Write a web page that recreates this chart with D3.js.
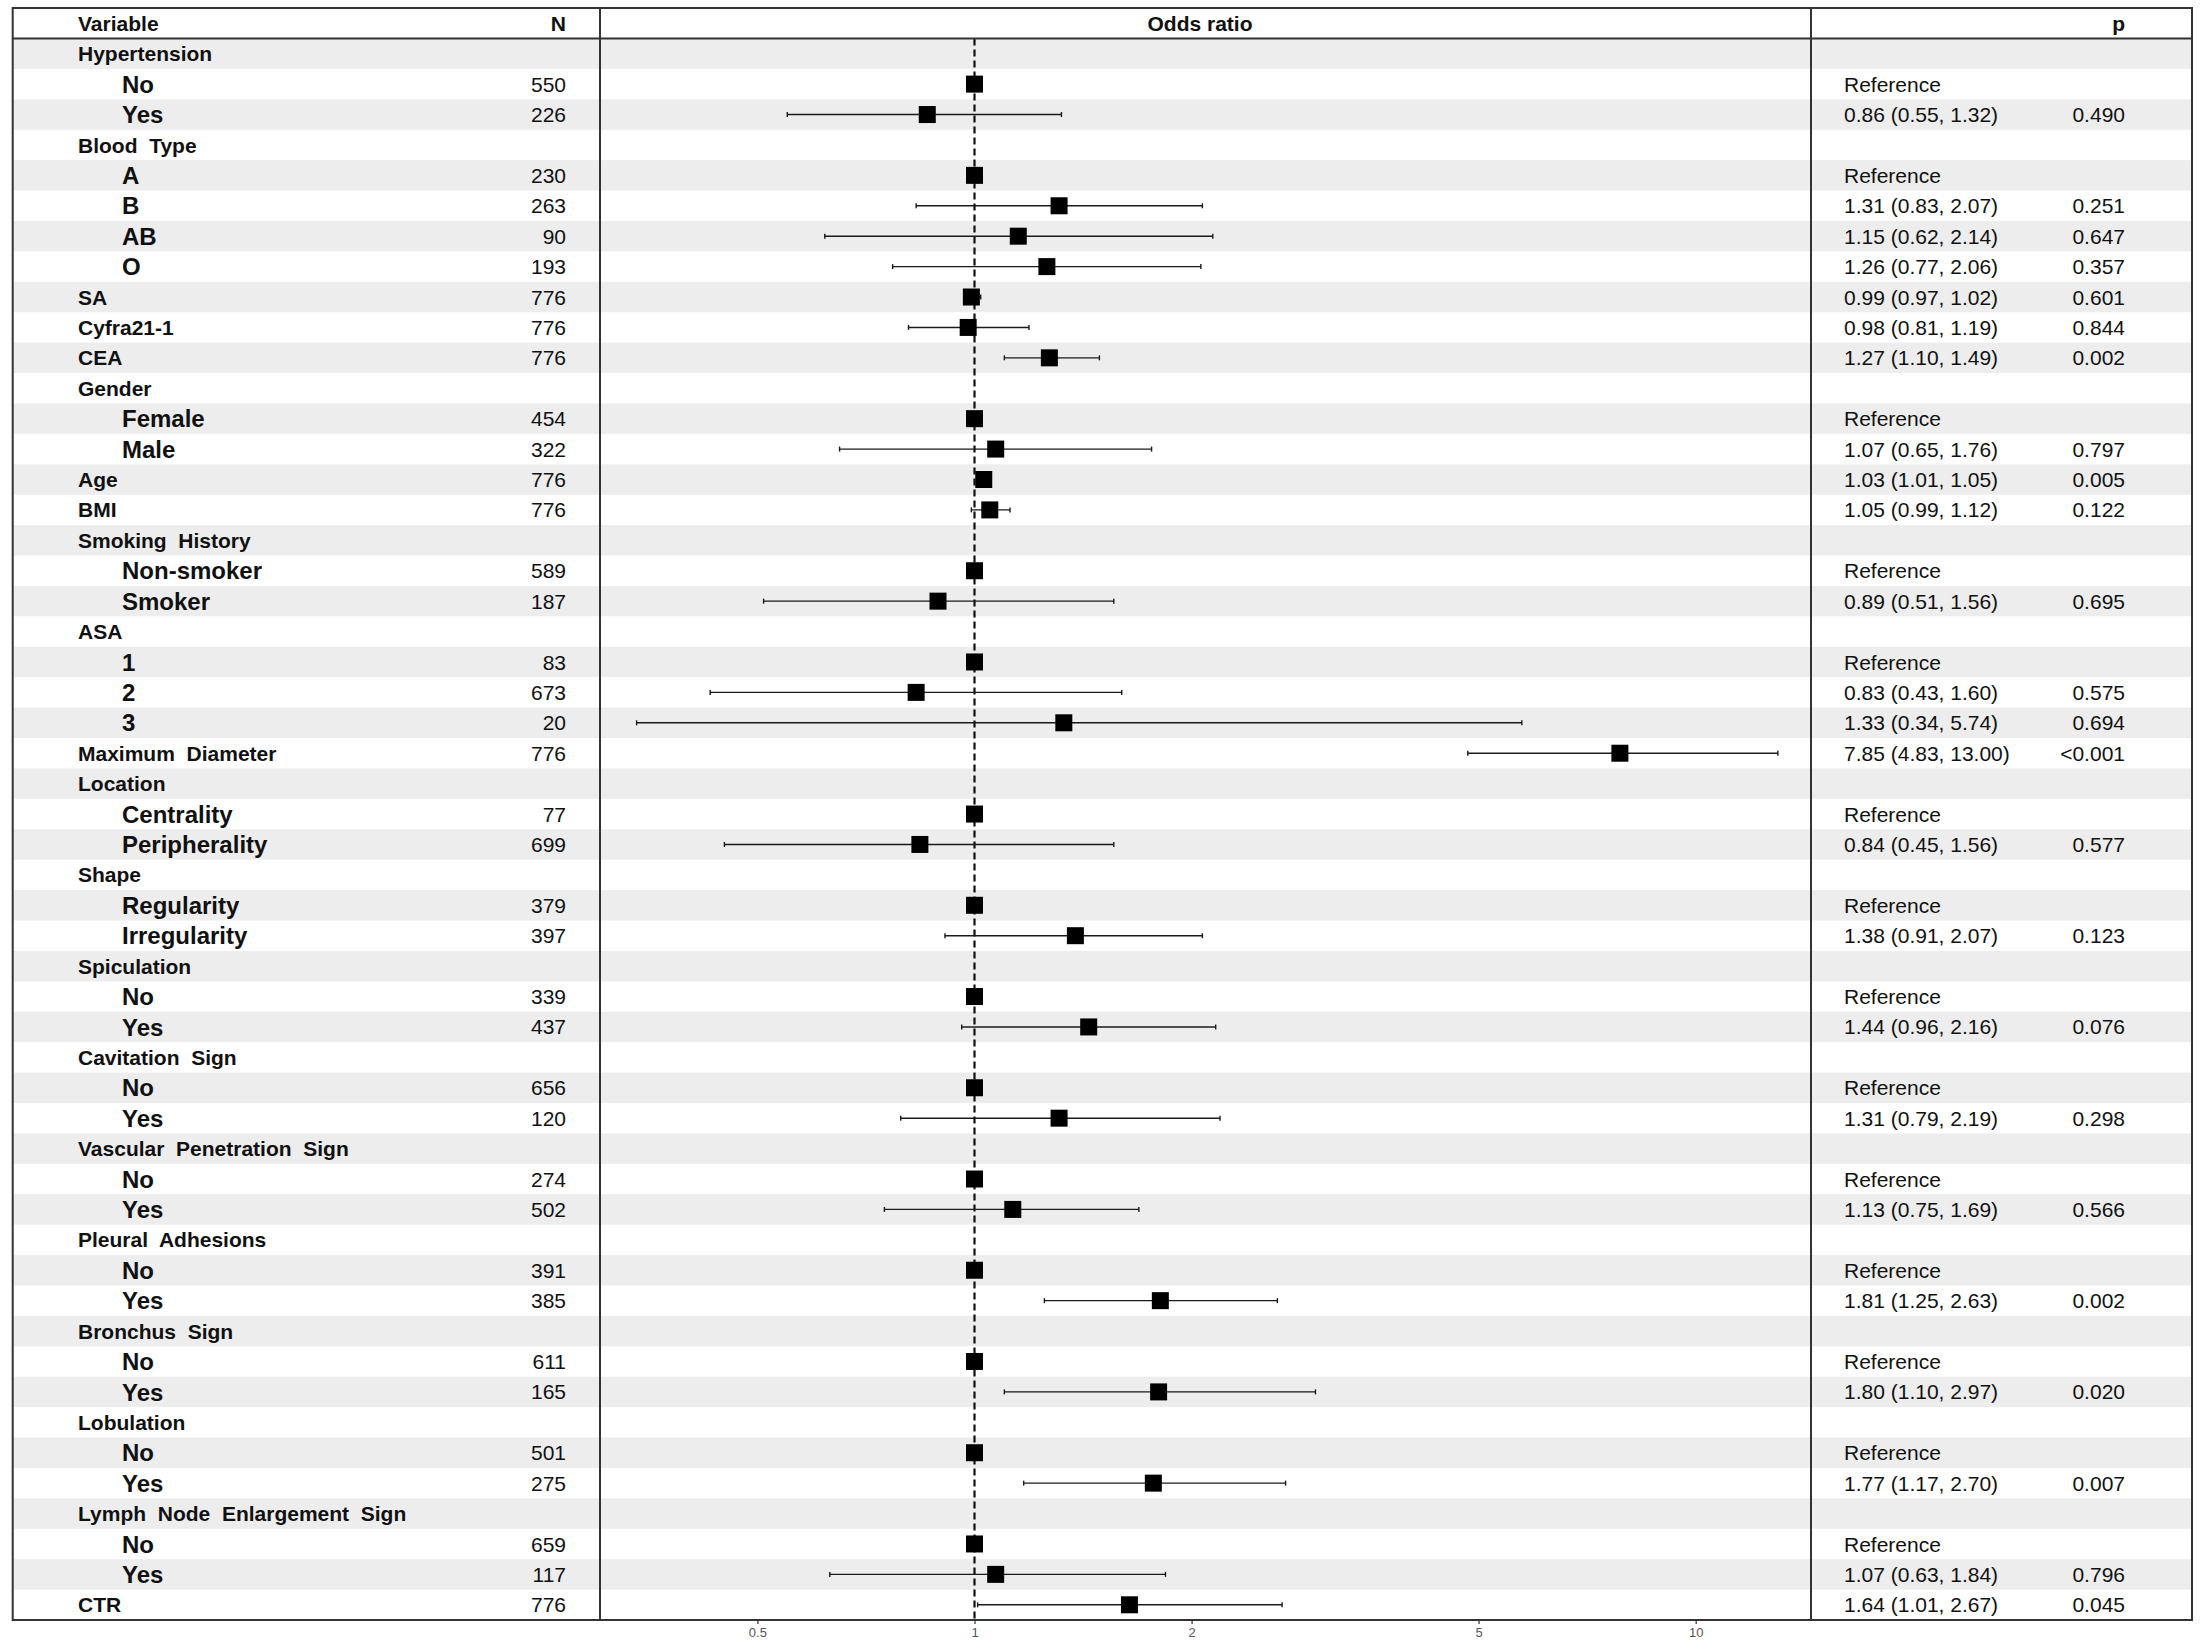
<!DOCTYPE html>
<html>
<head>
<meta charset="utf-8">
<script src="https://cdn.jsdelivr.net/npm/d3@7"></script>
<style>
  body { margin: 0; background: #fff; }
  text { font-family: "Liberation Sans", Arial, Helvetica, sans-serif; fill: #111; }
  .lbl { white-space: pre; }
</style>
</head>
<body>
<div id="chart"></div>
<script>
// rows of the forest plot, top to bottom
var labels = ["Hypertension","No","Yes","Blood  Type","A","B","AB","O","SA","Cyfra21-1","CEA",
  "Gender","Female","Male","Age","BMI","Smoking  History","Non-smoker","Smoker","ASA","1","2","3",
  "Maximum  Diameter","Location","Centrality","Peripherality","Shape","Regularity","Irregularity",
  "Spiculation","No","Yes","Cavitation  Sign","No","Yes","Vascular  Penetration  Sign","No","Yes",
  "Pleural  Adhesions","No","Yes","Bronchus  Sign","No","Yes","Lobulation","No","Yes",
  "Lymph  Node  Enlargement  Sign","No","Yes","CTR"];
// 0 = variable, 1 = level
var levels = [0,1,1,0,1,1,1,1,0,0,0,0,1,1,0,0,0,1,1,0,1,1,1,0,0,1,1,0,1,1,0,1,1,0,1,1,0,1,1,0,1,1,0,1,1,0,1,1,0,1,1,0];
var nValues = [null,550,226,null,230,263,90,193,776,776,776,null,454,322,776,776,null,589,187,null,83,673,20,776,
  null,77,699,null,379,397,null,339,437,null,656,120,null,274,502,null,391,385,null,611,165,null,501,275,null,659,117,776];
var oddsRatio = [null,1,0.86,null,1,1.31,1.15,1.26,0.99,0.98,1.27,null,1,1.07,1.03,1.05,null,1,0.89,null,1,0.83,1.33,7.85,
  null,1,0.84,null,1,1.38,null,1,1.44,null,1,1.31,null,1,1.13,null,1,1.81,null,1,1.80,null,1,1.77,null,1,1.07,1.64];
var lower = [null,null,0.55,null,null,0.83,0.62,0.77,0.97,0.81,1.10,null,null,0.65,1.01,0.99,null,null,0.51,null,null,0.43,0.34,4.83,
  null,null,0.45,null,null,0.91,null,null,0.96,null,null,0.79,null,null,0.75,null,null,1.25,null,null,1.10,null,null,1.17,null,null,0.63,1.01];
var upper = [null,null,1.32,null,null,2.07,2.14,2.06,1.02,1.19,1.49,null,null,1.76,1.05,1.12,null,null,1.56,null,null,1.60,5.74,13.00,
  null,null,1.56,null,null,2.07,null,null,2.16,null,null,2.19,null,null,1.69,null,null,2.63,null,null,2.97,null,null,2.70,null,null,1.84,2.67];
var pValues = [null,null,"0.490",null,null,"0.251","0.647","0.357","0.601","0.844","0.002",null,null,"0.797","0.005","0.122",null,null,"0.695",null,null,"0.575","0.694","<0.001",
  null,null,"0.577",null,null,"0.123",null,null,"0.076",null,null,"0.298",null,null,"0.566",null,null,"0.002",null,null,"0.020",null,null,"0.007",null,null,"0.796","0.045"];
var xTicks = [0.5, 1, 2, 5, 10];
var xDomain = [0.3025, 14.45];

var W = 2201, H = 1651;
var frameL = 12.7, frameR = 2192, frameT = 8, headB = 38.5, frameB = 1620;
var colN = 600, colP = 1811;

var svg = d3.select("#chart").append("svg")
    .attr("width", W)
    .attr("height", H);

var idx = d3.range(labels.length);
var y = d3.scaleBand().domain(idx).range([headB, frameB]);
var x = d3.scaleLog().domain(xDomain).range([colN, colP]);
var fmt = d3.format(".2f");
function mid(i) { return y(i) + y.bandwidth() / 2; }

// zebra bands
svg.selectAll("rect.band")
    .data(idx.filter(function(i) { return i % 2 == 0; }))
    .enter().append("rect")
    .attr("x", frameL)
    .attr("y", function(i) { return y(i); })
    .attr("width", frameR - frameL)
    .attr("height", y.bandwidth())
    .attr("fill", "#ededed");

// row labels
svg.selectAll("text.lbl")
    .data(idx)
    .enter().append("text")
    .attr("class", "lbl")
    .attr("x", function(i) { return levels[i] ? 122 : 78; })
    .attr("y", mid)
    .attr("dy", "0.36em")
    .style("font-weight", "bold")
    .style("font-size", function(i) { return levels[i] ? "24px" : "21px"; })
    .text(function(i) { return labels[i]; });

// N column
svg.selectAll("text.n")
    .data(idx.filter(function(i) { return nValues[i] != null; }))
    .enter().append("text")
    .attr("class", "n")
    .attr("x", 566)
    .attr("y", mid)
    .attr("dy", "0.36em")
    .attr("text-anchor", "end")
    .style("font-size", "21px")
    .text(function(i) { return nValues[i]; });

// estimate text
svg.selectAll("text.est")
    .data(idx.filter(function(i) { return oddsRatio[i] != null; }))
    .enter().append("text")
    .attr("class", "est")
    .attr("x", 1844)
    .attr("y", mid)
    .attr("dy", "0.36em")
    .style("font-size", "21px")
    .text(function(i) {
      if (lower[i] == null) return "Reference";
      return fmt(oddsRatio[i]) + " (" + fmt(lower[i]) + ", " + fmt(upper[i]) + ")";
    });

svg.selectAll("text.p")
    .data(idx.filter(function(i) { return pValues[i] != null; }))
    .enter().append("text")
    .attr("class", "p")
    .attr("x", 2125)
    .attr("y", mid)
    .attr("dy", "0.36em")
    .attr("text-anchor", "end")
    .style("font-size", "21px")
    .text(function(i) { return pValues[i]; });

// reference line at OR = 1
svg.append("line")
    .attr("x1", x(1)).attr("x2", x(1))
    .attr("y1", headB).attr("y2", frameB)
    .attr("stroke", "#111")
    .attr("stroke-width", 2.2)
    .attr("stroke-dasharray", "7,4");

// confidence intervals
var ci = idx.filter(function(i) { return lower[i] != null; });
var g = svg.append("g");
g.selectAll("line.ci")
    .data(ci)
    .enter().append("line")
    .attr("x1", function(i) { return x(lower[i]); })
    .attr("x2", function(i) { return x(upper[i]); })
    .attr("y1", mid)
    .attr("y2", mid)
    .attr("stroke", "#1a1a1a")
    .attr("stroke-width", 1.4);
[lower, upper].forEach(function(arr) {
  g.selectAll(null)
    .data(ci)
    .enter().append("line")
    .attr("x1", function(i) { return x(arr[i]); })
    .attr("x2", function(i) { return x(arr[i]); })
    .attr("y1", function(i) { return mid(i) - 2.5; })
    .attr("y2", function(i) { return mid(i) + 2.5; })
    .attr("stroke", "#1a1a1a")
    .attr("stroke-width", 1.4);
});

// point estimates
var sq = 17;
g.selectAll("rect.pt")
    .data(idx.filter(function(i) { return oddsRatio[i] != null; }))
    .enter().append("rect")
    .attr("x", function(i) { return x(oddsRatio[i]) - sq / 2; })
    .attr("y", function(i) { return mid(i) - sq / 2; })
    .attr("width", sq)
    .attr("height", sq)
    .attr("fill", "#000");

// bottom axis
var axis = svg.append("g")
    .attr("transform", "translate(0," + frameB + ")")
    .call(d3.axisBottom(x).tickValues(xTicks).tickFormat(d3.format("")).tickSize(4).tickPadding(4));
axis.select(".domain").remove();
axis.selectAll(".tick line").attr("stroke", "#4d4d4d").attr("stroke-width", 1.4);
axis.selectAll(".tick text")
    .style("font-size", "13px")
    .style("fill", "#555")
    .style("font-family", "'Liberation Sans', Arial, sans-serif");

// table frame
var frame = svg.append("g")
    .attr("stroke", "#333")
    .attr("stroke-width", 2)
    .attr("fill", "none");
frame.append("rect")
    .attr("x", frameL).attr("y", frameT)
    .attr("width", frameR - frameL).attr("height", frameB - frameT);
frame.append("line").attr("x1", frameL).attr("x2", frameR).attr("y1", headB).attr("y2", headB);
frame.append("line").attr("x1", colN).attr("x2", colN).attr("y1", frameT).attr("y2", frameB);
frame.append("line").attr("x1", colP).attr("x2", colP).attr("y1", frameT).attr("y2", frameB);

// header
var hy = (frameT + headB) / 2;
var head = [
  { t: "Variable", x: 78, a: "start" },
  { t: "N", x: 566, a: "end" },
  { t: "Odds ratio", x: 1200, a: "middle" },
  { t: "p", x: 2125, a: "end" }
];
svg.selectAll("text.head")
    .data(head)
    .enter().append("text")
    .attr("class", "head")
    .attr("x", function(d) { return d.x; })
    .attr("y", hy)
    .attr("dy", "0.36em")
    .attr("text-anchor", function(d) { return d.a; })
    .style("font-weight", "bold")
    .style("font-size", "21px")
    .text(function(d) { return d.t; });
</script>
</body>
</html>
